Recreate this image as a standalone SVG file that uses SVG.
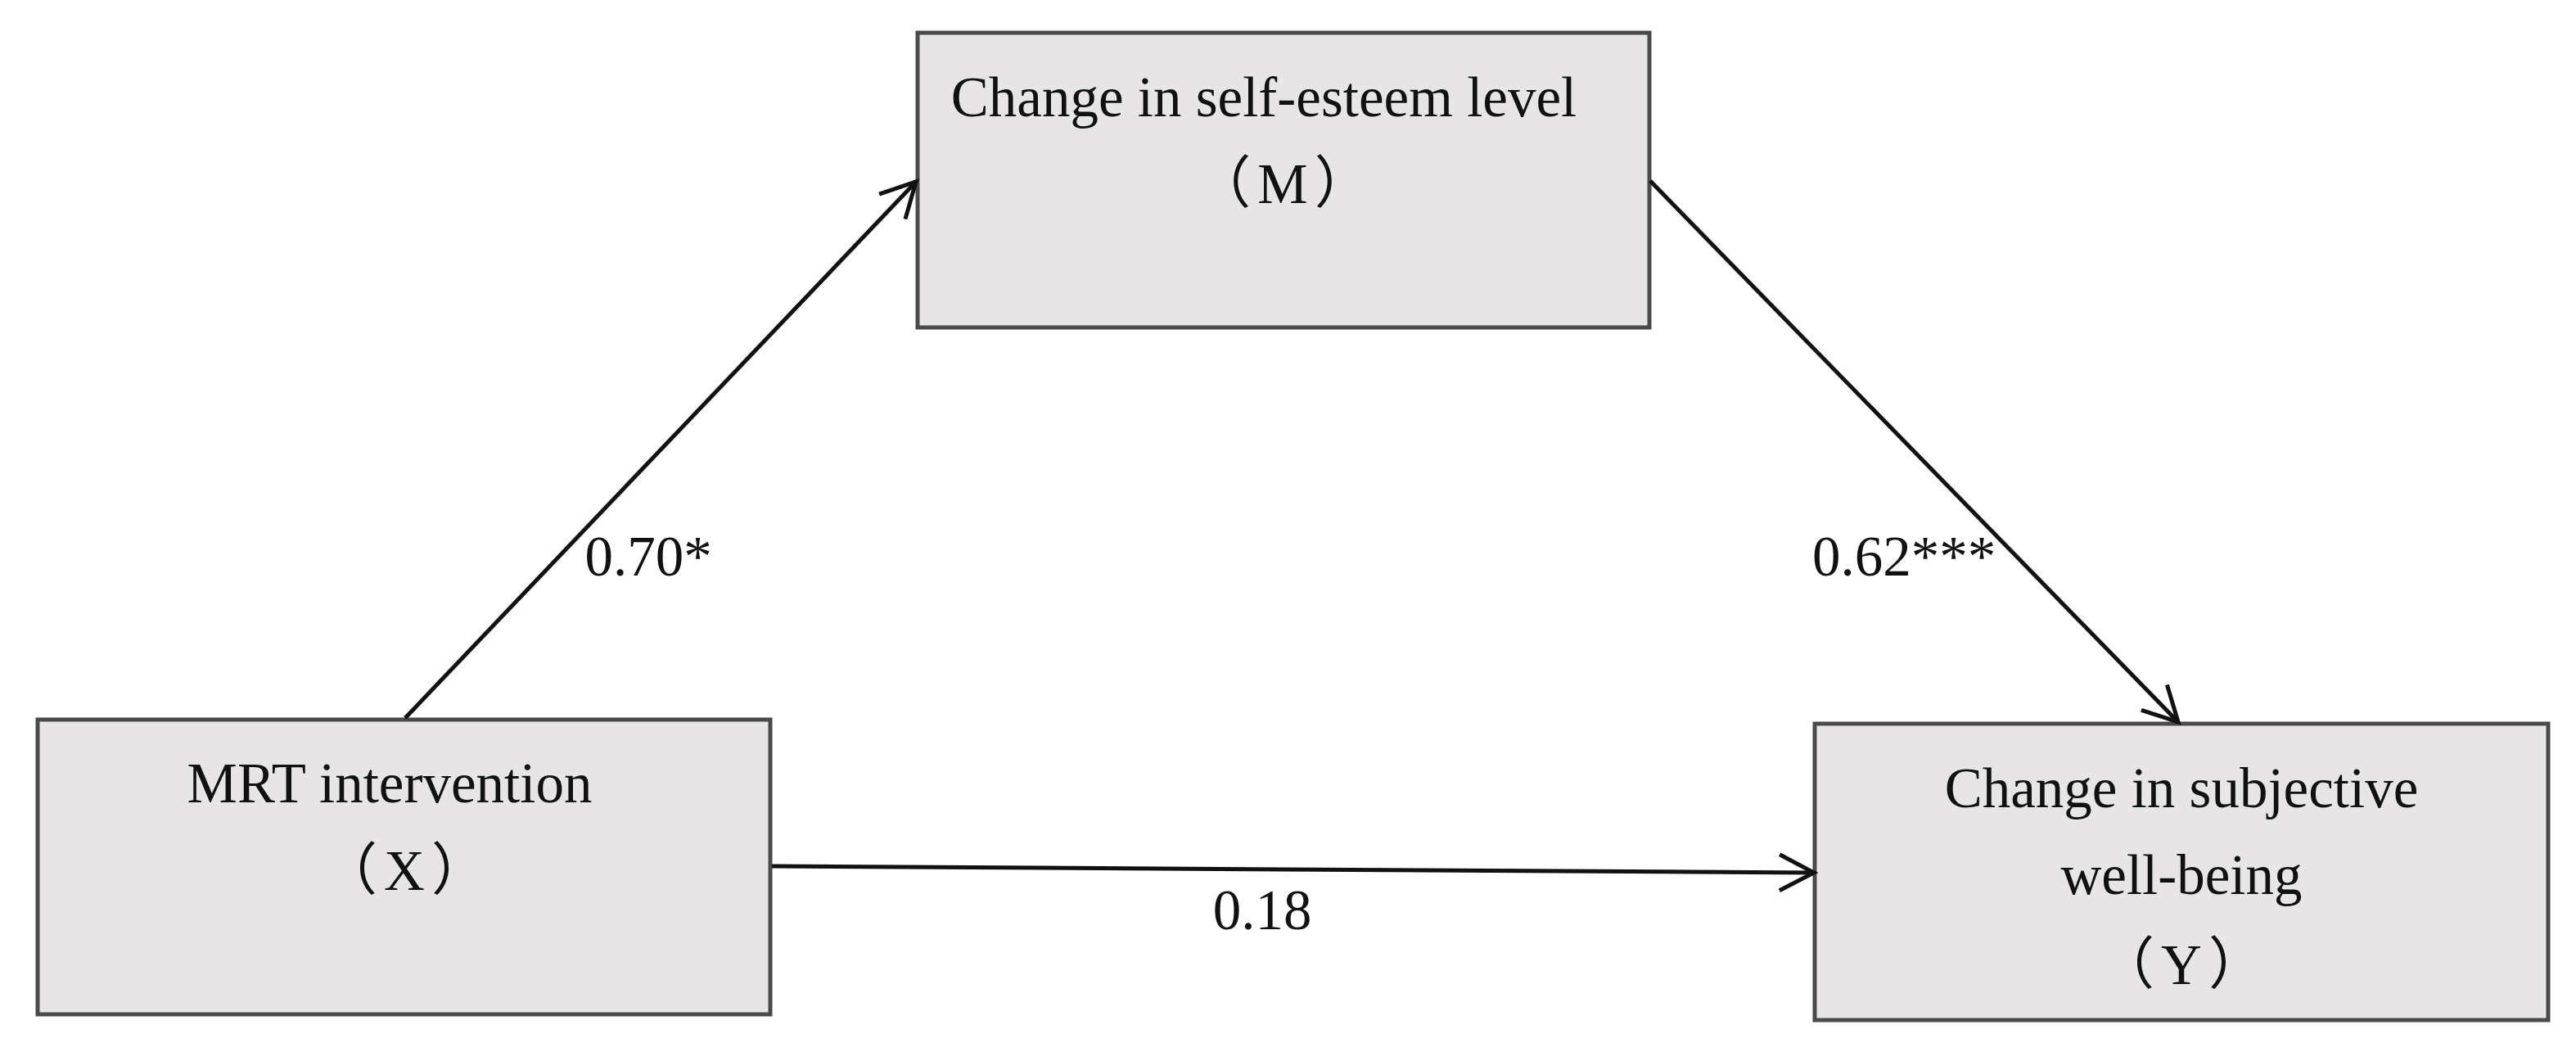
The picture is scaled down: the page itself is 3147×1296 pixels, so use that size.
<svg xmlns="http://www.w3.org/2000/svg" width="3147" height="1296" viewBox="0 0 3147 1296">
<style>
.box{fill:#e8e5e6;stroke:#4a4a4a;stroke-width:5}
.t{font-family:"Liberation Serif","Noto Sans CJK SC",serif;font-size:69px;fill:#111;text-anchor:middle}
.p{letter-spacing:8px}
.c{fill:none;stroke:#111;stroke-width:5}
</style>
<defs>
<marker id="ah" markerUnits="userSpaceOnUse" markerWidth="60" markerHeight="60" viewBox="-50 -30 60 60" refX="0" refY="0" orient="auto">
<path d="M-42,-22 L0,0 L-42,22" fill="none" stroke="#111" stroke-width="5"/>
</marker>
</defs>
<rect width="3147" height="1296" fill="#fff"/>
<g id="node-M">
<rect class="box" x="1121" y="40" width="894" height="360"/>
<text class="t" x="1544" y="142">Change in self-esteem level</text>
<text class="t p" x="1571" y="248">（M）</text>
</g>
<g id="node-X">
<rect class="box" x="46" y="879" width="895" height="360"/>
<text class="t" x="476" y="980">MRT intervention</text>
<text class="t p" x="498" y="1087">（X）</text>
</g>
<g id="node-Y">
<rect class="box" x="2217" y="884" width="896" height="362"/>
<text class="t" x="2665" y="986">Change in subjective</text>
<text class="t" x="2665" y="1092">well-being</text>
<text class="t p" x="2669" y="1202">（Y）</text>
</g>
<g id="connectors">
<line class="c" x1="495" y1="877" x2="1119" y2="222" marker-end="url(#ah)"/>
<line class="c" x1="2016" y1="221" x2="2661" y2="882" marker-end="url(#ah)"/>
<line class="c" x1="943" y1="1058" x2="2216" y2="1066" marker-end="url(#ah)"/>
<text class="t" x="792" y="703">0.70*</text>
<text class="t" x="2326" y="703">0.62***</text>
<text class="t" x="1542" y="1135">0.18</text>
</g>
</svg>
